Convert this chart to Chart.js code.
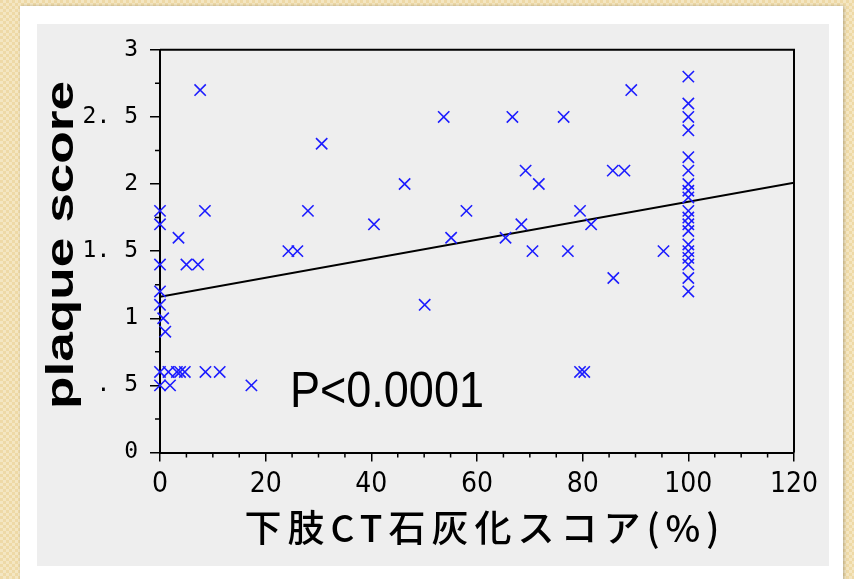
<!DOCTYPE html>
<html lang="ja">
<head>
<meta charset="utf-8">
<title>plaque score</title>
<script src="https://cdn.jsdelivr.net/npm/chart.js@4.4.1/dist/chart.umd.min.js"></script>
<style>
  html, body { margin: 0; padding: 0; }
  body {
    width: 854px; height: 579px; overflow: hidden; position: relative;
    background: #f1dfb2 repeating-conic-gradient(#f4e6c2 0 25%, #eed9a6 0 50%) 0 0 / 6px 6px;
  }
  #card { position: absolute; left: 20px; top: 6px; width: 823px; height: 600px; background: #fff; box-shadow: 1px 0 3px rgba(0,0,0,0.25); }
  #panel { position: absolute; left: 37px; top: 24px; width: 792px; height: 542px; background: #eeeeee; }
  canvas { position: absolute; left: 0; top: 0; }
</style>
</head>
<body>
<div id="card"></div>
<div id="panel"><canvas id="chart" width="792" height="542"></canvas></div>
<script>
// 下肢CT石灰化スコア (%) と plaque score
const calcScore = [
  0, 0, 0, 0, 0, 0.6, 1, 0, 0,
  1.6, 3.2, 3.8, 4.7, 8.6, 11.3,
  1.9, 17.3,
  8.5, 3.5, 5, 7.2, 7.6,
  24.3, 26, 28, 30.6, 40.5, 46.3, 50.1, 53.7, 55.1, 58,
  65.4, 66.7, 68.4, 69.2, 70.5, 71.7, 76.4, 77.2, 79.5, 79.5,
  80.3, 81.6, 85.7, 85.8, 87.9, 89.2, 95.3,
  100, 100, 100, 100, 100, 100, 100, 100, 100, 100,
  100, 100, 100, 100, 100, 100, 100, 100, 100
];
const plaqueScore = [
  1.8, 1.7, 1.4, 1.2, 1.1, 1.0, 0.9, 0.6, 0.5,
  0.6, 0.6, 0.6, 0.6, 0.6, 0.6,
  0.5, 0.5,
  1.8, 1.6, 1.4, 1.4, 2.7,
  1.5, 1.5, 1.8, 2.3, 1.7, 2.0, 1.1, 2.5, 1.6, 1.8,
  1.6, 2.5, 1.7, 2.1, 1.5, 2.0, 2.5, 1.5, 1.8, 0.6,
  0.6, 1.7, 2.1, 1.3, 2.1, 2.7, 1.5,
  2.8, 2.6, 2.5, 2.4, 2.2, 2.1, 2.0, 1.95, 1.9, 1.8,
  1.75, 1.7, 1.65, 1.55, 1.5, 1.45, 1.4, 1.3, 1.2
];
// 回帰直線
const fitX = [0, 120];
const fitY = [1.16, 2.01];

const xTickLabels = ['0', '20', '40', '60', '80', '100', '120'];
const yTickLabels = ['0', '. 5', '1', '1. 5', '2', '2. 5', '3'];
const xTitle = '下肢CT石灰化スコア(%)';
const yTitle = 'plaque score';
const pText = 'P<0.0001';

const points = calcScore.map((x, i) => ({ x: x, y: plaqueScore[i] }));
const fitLine = fitX.map((x, i) => ({ x: x, y: fitY[i] }));

// 枠線・補助目盛・文字
const frame = {
  id: 'frame',
  afterDraw(chart) {
    const c = chart.ctx, a = chart.chartArea;
    const xs = chart.scales.x, ys = chart.scales.y;
    c.save();
    c.strokeStyle = '#000';
    c.lineWidth = 2;
    c.beginPath();
    c.moveTo(a.left, a.top);
    c.lineTo(a.right, a.top);
    c.lineTo(a.right, a.bottom);
    c.stroke();

    c.lineWidth = 1.5;
    c.beginPath();
    for (let v = 0.25; v < 3; v += 0.5) {
      const y = ys.getPixelForValue(v);
      c.moveTo(a.left - 5, y);
      c.lineTo(a.left, y);
    }
    for (let v = 5; v < 120; v += 5) {
      if (v % 20 === 0) continue;
      const x = xs.getPixelForValue(v);
      c.moveTo(x, a.bottom);
      c.lineTo(x, a.bottom + 5);
    }
    c.stroke();

    c.fillStyle = '#000';
    c.textBaseline = 'alphabetic';

    c.save();
    c.font = '50px "Liberation Sans"';
    c.translate(253, 383);
    c.scale(0.9, 1);
    c.fillText(pText, 0, 0);
    c.restore();

    c.save();
    c.font = '500 37px "Noto Sans CJK JP"';
    c.letterSpacing = '6px';
    c.textAlign = 'center';
    c.fillText(xTitle, 448, 518);
    c.restore();

    c.save();
    c.font = 'bold 38px "Liberation Sans"';
    c.textAlign = 'center';
    c.translate(36, 221);
    c.rotate(-Math.PI / 2);
    c.scale(1.4, 1);
    c.fillText(yTitle, 0, 0);
    c.restore();

    c.restore();
  }
};

const ctx = document.getElementById('chart').getContext('2d');
const chart = new Chart(ctx, {
  type: 'scatter',
  data: {
    datasets: [
      {
        type: 'line',
        data: fitLine,
        borderColor: '#000',
        borderWidth: 2,
        pointRadius: 0,
        order: 2
      },
      {
        data: points,
        pointStyle: 'crossRot',
        pointRadius: 8,
        borderColor: '#1c1cff',
        backgroundColor: '#1c1cff',
        borderWidth: 1.6,
        clip: false,
        order: 1
      }
    ]
  },
  options: {
    responsive: false,
    animation: false,
    layout: { padding: { top: 22, right: 35, left: 0, bottom: 0 } },
    plugins: { legend: { display: false }, tooltip: { enabled: false } },
    scales: {
      x: {
        type: 'linear',
        min: 0,
        max: 120,
        grid: { drawOnChartArea: false, tickLength: 9, color: '#000', lineWidth: 1.5 },
        border: { color: '#000', width: 2 },
        ticks: {
          stepSize: 20,
          padding: 6,
          maxRotation: 0,
          color: '#000',
          font: { family: 'DejaVu Sans Condensed', size: 28 },
          callback: (v, i) => xTickLabels[i]
        },
        afterFit: (s) => { s.height = 113.5; }
      },
      y: {
        min: 0,
        max: 3,
        grid: { drawOnChartArea: false, tickLength: 10, color: '#000', lineWidth: 1.5 },
        border: { color: '#000', width: 2 },
        ticks: {
          stepSize: 0.5,
          padding: 12,
          color: '#000',
          font: { family: 'DejaVu Sans Mono', size: 23 },
          callback: (v, i) => yTickLabels[i]
        },
        afterFit: (s) => { s.width = 123; }
      }
    }
  },
  plugins: [frame]
});
</script>
</body>
</html>
